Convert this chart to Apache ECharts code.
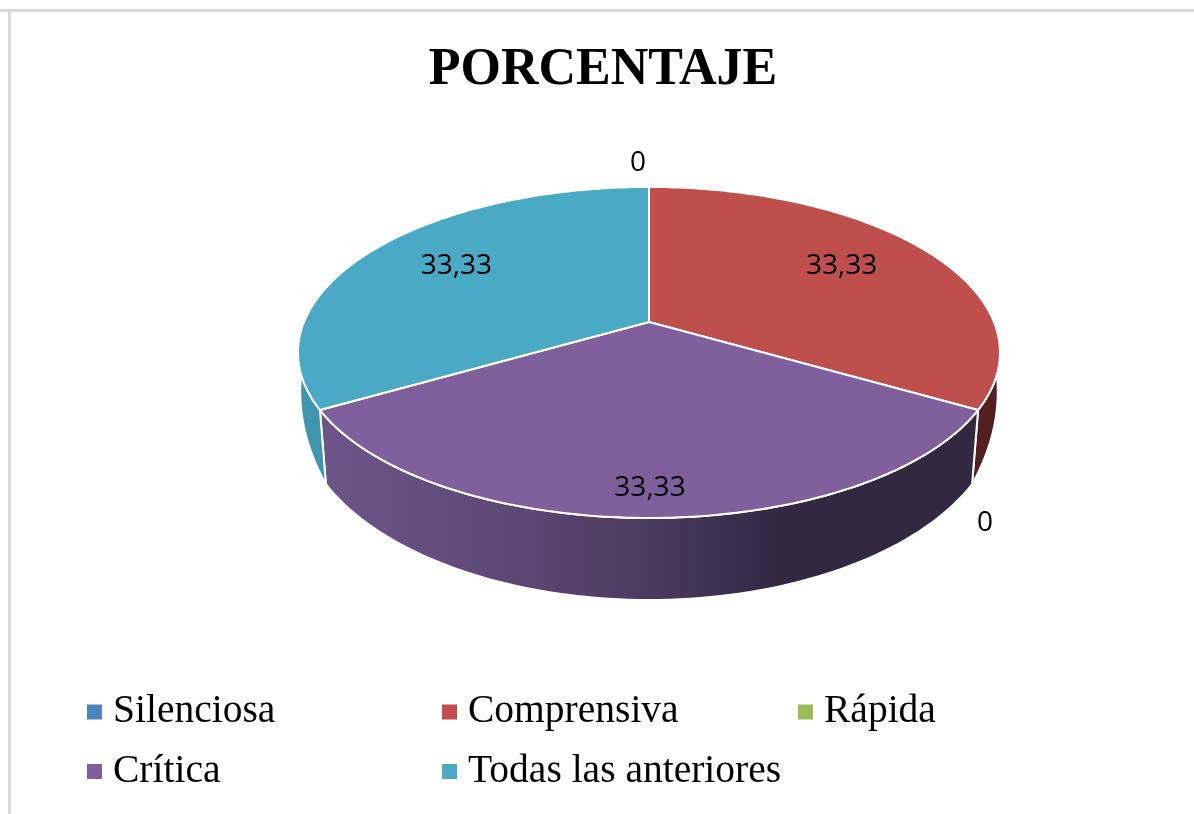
<!DOCTYPE html>
<html><head><meta charset="utf-8">
<style>html,body{margin:0;padding:0;background:#fff}#c{width:1194px;height:814px}</style>
<script src="https://cdn.jsdelivr.net/npm/echarts@6/dist/echarts.min.js"></script>
</head><body><div id="c"></div>
<script>
const categories = ['Silenciosa','Comprensiva','Rápida','Crítica','Todas las anteriores'];
const values = [0, 33.33, 0, 33.33, 33.33];
const valueLabels = ['0','33,33','0','33,33','33,33'];
const topColors = ['#4F81BD','#BE4F4D','#9BBB59','#7F609C','#4AA9C4'];

// layout only: label offset from each slice's mid-rim point, legend anchor per category
const labelOffsets = [[-11,-24],[-81,17],[7,113],[1,-30],[81,17]];
const legendAnchors = [[87,692],[442,692],[798,692],[87,751.5],[442,751.5]];

// perspective disc geometry
const CX = 649, CY = 322, A = 345, B = 159.9, K = 0.184;
const LOW_CY = 410, LOW_RX = 351, LOW_RY = 190;
const WALL_START = 108; // degrees from the back where the wall appears
const rad = d => d * Math.PI / 180;

function topPoint(deg, r) {
  r = r === undefined ? 1 : r;
  const u = Math.sin(rad(deg)) * r, v = Math.cos(rad(deg)) * r, d = 1 + K * v;
  return [CX + A * u / d, CY - B * v / d];
}
function lowEllipse(phi) {
  return [CX + LOW_RX * Math.sin(rad(phi)), LOW_CY - LOW_RY * Math.cos(rad(phi))];
}
function lowPoint(deg) {
  const off = deg - 180, m = Math.abs(off), s = off < 0 ? 1 : -1; // s = +1 on the right side
  if (m <= 60) return lowEllipse(180 + off * 67 / 60);
  const p0 = lowEllipse(180 - s * 67), p2 = topPoint(180 - s * (180 - WALL_START));
  const t = (m - 60) / (180 - WALL_START - 60);
  const ctrl = [(p0[0] + p2[0]) / 2 + s * 18, (p0[1] + p2[1]) / 2];
  const q = 1 - t;
  return [q*q*p0[0] + 2*q*t*ctrl[0] + t*t*p2[0], q*q*p0[1] + 2*q*t*ctrl[1] + t*t*p2[1]];
}
function arc(a, b, fn, n) {
  const out = [];
  for (let i = 0; i <= n; i++) out.push(fn(a + (b - a) * i / n));
  return out;
}

const total = values.reduce((s, x) => s + x, 0);
const wallStyles = {
  1: '#51201F',
  3: { type:'linear', x:327, y:0, x2:972, y2:0, global:true, colorStops:[
       {offset:0,color:'#6C5588'},{offset:0.25,color:'#5E4A78'},{offset:0.5,color:'#4A3A60'},
       {offset:0.7,color:'#322843'},{offset:1,color:'#322842'}] },
  4: '#3E95AD'
};

function makeSeries(idx) {
  const start = values.slice(0, idx).reduce((s, x) => s + x, 0) / total * 360;
  const end = start + values[idx] / total * 360;
  const mid = (start + end) / 2;
  return {
    type: 'custom',
    name: categories[idx],
    coordinateSystem: 'none',
    itemStyle: { color: topColors[idx] },
    data: [values[idx]],
    silent: true,
    renderItem() {
      const children = [];
      if (values[idx] > 0) {
        const wa = Math.max(start, WALL_START), wb = Math.min(end, 360 - WALL_START);
        if (wb > wa) {
          const pts = arc(wa, wb, topPoint, 80).concat(arc(wb, wa, lowPoint, 80));
          children.push({ type:'polygon', shape:{ points:pts }, z2:1,
            style:{ fill: wallStyles[idx], stroke:'#fff', lineWidth:2, lineJoin:'round' } });
        }
        const pts = [[CX, CY]].concat(arc(start, end, topPoint, 120));
        children.push({ type:'polygon', shape:{ points:pts }, z2:2,
          style:{ fill: topColors[idx], stroke:'#fff', lineWidth:2, lineJoin:'round' } });
      }
      const p = topPoint(mid);
      children.push({ type:'text', z2:3,
        x: p[0] + labelOffsets[idx][0], y: p[1] + labelOffsets[idx][1],
        style:{ text: valueLabels[idx], fill:'#000', align:'center', verticalAlign:'middle',
                font:'28px "Open Sans", sans-serif' } });
      return { type:'group', children };
    }
  };
}

const chart = echarts.init(document.getElementById('c'), null, { renderer:'canvas' });
chart.setOption({
  animation:false,
  backgroundColor:'#fff',
  title:{ text:'PORCENTAJE', left:598, top:40, textAlign:'center',
    textStyle:{ fontFamily:'"Liberation Serif", serif', fontWeight:'bold', fontSize:52, color:'#000' } },
  legend: categories.map((c, i) => ({
    data:[c], left:legendAnchors[i][0], top:legendAnchors[i][1], padding:0,
    icon:'rect', itemWidth:15, itemHeight:15, selectedMode:false,
    textStyle:{ fontFamily:'"Liberation Serif", serif', fontSize:39.5, color:'#000', lineHeight:15, padding:[0,0,0,6] }
  })),
  graphic:[
    { type:'rect', shape:{x:0,y:9,width:1194,height:3}, style:{fill:'#D9D9D9'}, silent:true },
    { type:'rect', shape:{x:8,y:9,width:3,height:805}, style:{fill:'#D9D9D9'}, silent:true }
  ],
  series: categories.map((_, i) => makeSeries(i))
});
</script></body></html>
